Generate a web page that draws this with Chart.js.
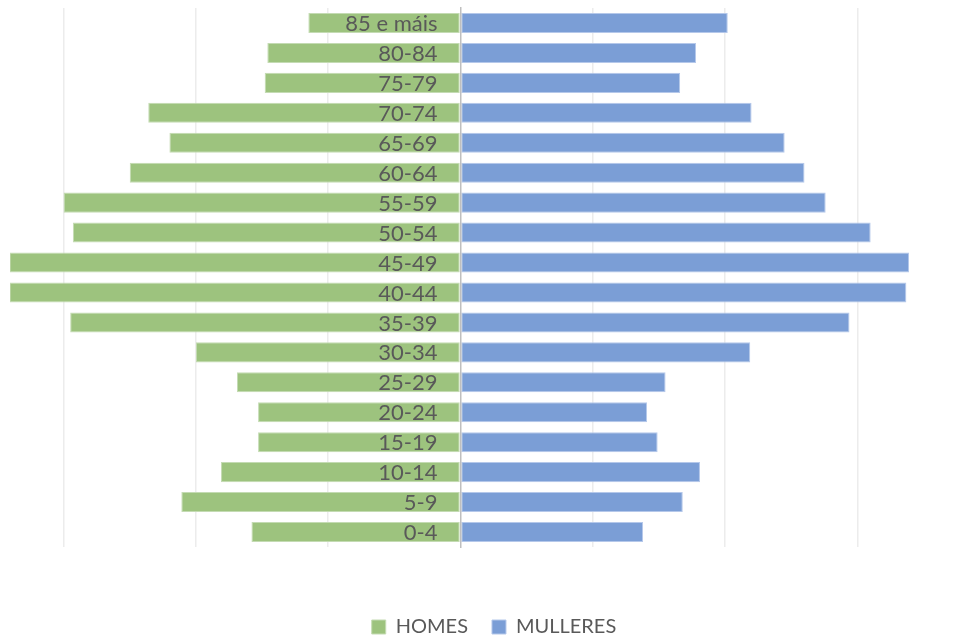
<!DOCTYPE html>
<html>
<head>
<meta charset="utf-8">
<script src="https://cdn.jsdelivr.net/npm/chart.js@4.4.1/dist/chart.umd.min.js"></script>
<style>
  html, body { margin: 0; padding: 0; background: #ffffff; }
  #wrap { width: 978px; height: 637px; position: relative; }
</style>
</head>
<body>
<div id="wrap"><canvas id="pyramid"></canvas></div>
<script>
// age groups, top row first
const ageGroups = ['85 e máis', '80-84', '75-79', '70-74', '65-69', '60-64', '55-59', '50-54', '45-49',
                   '40-44', '35-39', '30-34', '25-29', '20-24', '15-19', '10-14', '5-9', '0-4'];
// values (one grid step = 1)
const homes    = [1.15, 1.46, 1.48, 2.36, 2.20, 2.50, 3.00, 2.93, 3.41, 3.41, 2.95, 2.00, 1.69, 1.53, 1.53, 1.81, 2.11, 1.58];
const mulleres = [2.02, 1.78, 1.66, 2.20, 2.45, 2.60, 2.76, 3.10, 3.39, 3.37, 2.94, 2.19, 1.55, 1.41, 1.49, 1.81, 1.68, 1.38];
const gridTicks = [-3, -2, -1, 0, 1, 2, 3];

const textGrey = '#595959';
const labelFont = '22px Lato';

// age labels sit just left of the centre line, on top of the bars
const ageLabels = {
  id: 'ageLabels',
  afterDatasetsDraw(chart) {
    const { ctx, scales: { x, y } } = chart;
    const right = x.getPixelForValue(0) - 23;
    ctx.save();
    ctx.font = labelFont;
    ctx.fillStyle = textGrey;
    ctx.textAlign = 'right';
    ctx.textBaseline = 'middle';
    y.ticks.forEach((t, i) => {
      ctx.fillText(ageGroups[t.value], right, y.getPixelForTick(i) + 1);
    });
    ctx.restore();
  }
};

new Chart(document.getElementById('pyramid'), {
  type: 'bar',
  data: {
    labels: ageGroups,
    datasets: [
      { label: 'HOMES', data: homes.map(v => -v), backgroundColor: '#9dc37e',
        borderColor: '#c4dbb3', borderWidth: 1, borderSkipped: false },
      { label: 'MULLERES', data: mulleres, backgroundColor: '#7b9ed6',
        borderColor: '#b5c8ea', borderWidth: 1, borderSkipped: false }
    ]
  },
  options: {
    indexAxis: 'y',
    responsive: true,
    maintainAspectRatio: false,
    animation: false,
    layout: { padding: { left: 10, right: 0, top: 8, bottom: -10 } },
    datasets: { bar: { categoryPercentage: 1, barPercentage: 0.67 } },
    scales: {
      x: {
        stacked: true,
        min: -3.405,
        max: 3.405,
        afterBuildTicks: axis => { axis.ticks = gridTicks.map(v => ({ value: v })); },
        afterFit: axis => { axis.height = 46; },
        ticks: { display: false },
        grid: {
          drawTicks: false,
          lineWidth: 1.5,
          color: ctx => (ctx.tick && ctx.tick.value === 0) ? 'rgba(0,0,0,0)' : '#ececec'
        },
        border: { display: false }
      },
      y: {
        stacked: true,
        position: { x: 0 },
        grid: { display: false, drawTicks: false },
        border: { display: true, color: '#bfbfbf', width: 1.5, z: 1 },
        ticks: { display: false, autoSkip: false }
      },
      // empty strip on the right of the plot
      yRight: {
        type: 'category',
        axis: 'y',
        position: 'right',
        labels: ageGroups,
        afterFit: axis => { axis.width = 67; },
        grid: { display: false, drawTicks: false },
        border: { display: false },
        ticks: { display: false }
      }
    },
    plugins: {
      tooltip: { enabled: false },
      legend: {
        position: 'bottom',
        labels: {
          color: textGrey,
          boxWidth: 14,
          boxHeight: 14,
          padding: 24,
          font: { family: 'Lato', size: 20 }
        }
      }
    }
  },
  plugins: [ageLabels]
});
</script>
</body>
</html>
